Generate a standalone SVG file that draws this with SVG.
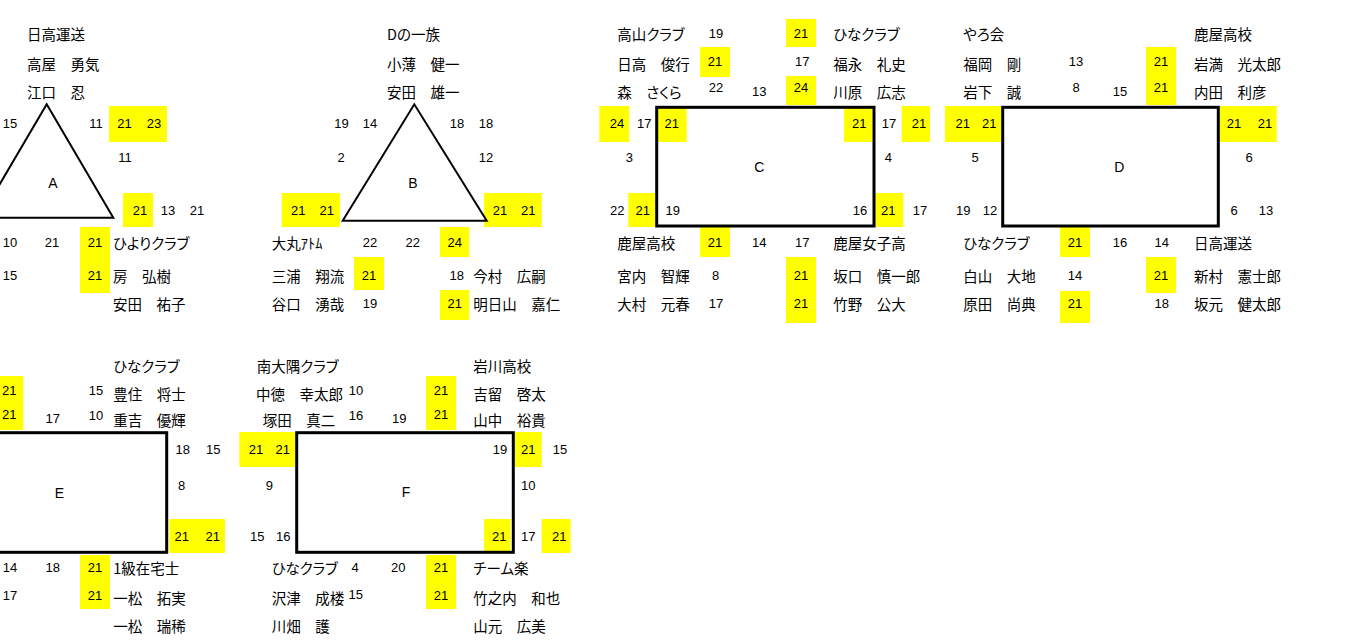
<svg xmlns="http://www.w3.org/2000/svg" width="1351" height="641" viewBox="0 0 1351 641">
<style>
.n{font-family:"Liberation Sans",Arial,sans-serif;font-size:13px;text-anchor:middle;dominant-baseline:central;fill:#000}
.j{font-family:"Noto Sans CJK JP","Noto Sans",sans-serif;font-size:14.5px;dominant-baseline:central;fill:#000;font-feature-settings:"palt" 1}
.l{font-family:"Liberation Sans",Arial,sans-serif;font-size:14px;text-anchor:middle;dominant-baseline:central;fill:#000}
.y{fill:#FFFF00}
.tri{fill:none;stroke:#000;stroke-width:2;stroke-linejoin:miter}
.box{fill:none;stroke:#000;stroke-width:3}
</style>
<rect x="0" y="0" width="1351" height="641" fill="#fff"/>
<g id="connectors"/>

<g id="blockA">
<rect class="y" x="109" y="106" width="58" height="36"/>
<rect class="y" x="123" y="193" width="30" height="34"/>
<rect class="y" x="80" y="227" width="30" height="66"/>
<polygon class="tri" points="-20,217.7 46.7,104.3 113.3,217.7"/>
<text class="j" x="27" y="33">日高運送</text>
<text class="j" x="27" y="63">高屋　勇気</text>
<text class="j" x="27" y="91">江口　忍</text>
<text class="n" x="10" y="123">15</text>
<text class="n" x="96" y="123">11</text>
<text class="n" x="124.5" y="123">21</text>
<text class="n" x="154" y="123">23</text>
<text class="n" x="125" y="157">11</text>
<text class="l" x="53" y="183">A</text>
<text class="n" x="140" y="210">21</text>
<text class="n" x="168" y="210">13</text>
<text class="n" x="197" y="210">21</text>
<text class="n" x="10" y="242">10</text>
<text class="n" x="52" y="242">21</text>
<text class="n" x="95" y="242">21</text>
<text class="j" x="113" y="242">ひよりクラブ</text>
<text class="n" x="10" y="275">15</text>
<text class="n" x="95" y="275">21</text>
<text class="j" x="113" y="275">房　弘樹</text>
<text class="j" x="113" y="303">安田　祐子</text>
</g>

<g id="blockB">
<rect class="y" x="281.7" y="193" width="58.3" height="34"/>
<rect class="y" x="484" y="193" width="57.7" height="34"/>
<rect class="y" x="440" y="227" width="29.3" height="30"/>
<rect class="y" x="354" y="257" width="30" height="33"/>
<rect class="y" x="440" y="290" width="29.3" height="30"/>
<polygon class="tri" points="342.7,220.7 414.3,104.3 486.7,220.7"/>
<text class="j" x="387" y="33">Dの一族</text>
<text class="j" x="387" y="63">小薄　健一</text>
<text class="j" x="387" y="91">安田　雄一</text>
<text class="n" x="341.5" y="123">19</text>
<text class="n" x="370" y="123">14</text>
<text class="n" x="457" y="123">18</text>
<text class="n" x="486" y="123">18</text>
<text class="n" x="341" y="157">2</text>
<text class="n" x="486" y="157">12</text>
<text class="l" x="413" y="183">B</text>
<text class="n" x="298.3" y="210">21</text>
<text class="n" x="326.7" y="210">21</text>
<text class="n" x="500" y="210">21</text>
<text class="n" x="528.3" y="210">21</text>
<text class="j" x="271.7" y="242">大丸ｱﾄﾑ</text>
<text class="n" x="370" y="242">22</text>
<text class="n" x="412.7" y="242">22</text>
<text class="n" x="454.7" y="242">24</text>
<text class="j" x="271.7" y="275">三浦　翔流</text>
<text class="n" x="369" y="275">21</text>
<text class="n" x="456.7" y="275">18</text>
<text class="j" x="473.3" y="275">今村　広嗣</text>
<text class="j" x="271.7" y="303">谷口　湧哉</text>
<text class="n" x="370" y="303">19</text>
<text class="n" x="454.7" y="303">21</text>
<text class="j" x="473.3" y="303">明日山　嘉仁</text>
</g>

<g id="blockC">
<rect class="y" x="786" y="19" width="30" height="28"/>
<rect class="y" x="700" y="47" width="30" height="30"/>
<rect class="y" x="786" y="76" width="30" height="29"/>
<rect class="y" x="599.3" y="106" width="30" height="36"/>
<rect class="y" x="656.7" y="106" width="30" height="36"/>
<rect class="y" x="844" y="106" width="28" height="36"/>
<rect class="y" x="901.7" y="106" width="28.3" height="36"/>
<rect class="y" x="628.3" y="193" width="26.7" height="34"/>
<rect class="y" x="875" y="193" width="28.3" height="34"/>
<rect class="y" x="700" y="227" width="30" height="30"/>
<rect class="y" x="786" y="257" width="30" height="66"/>
<rect class="box" x="656.7" y="107.3" width="217.3" height="118.7"/>
<text class="j" x="617.3" y="33">高山クラブ</text>
<text class="n" x="716" y="33">19</text>
<text class="n" x="801" y="33">21</text>
<text class="j" x="833.3" y="33">ひなクラブ</text>
<text class="j" x="617.3" y="63">日高　俊行</text>
<text class="n" x="715" y="61">21</text>
<text class="n" x="802.3" y="61">17</text>
<text class="j" x="833.3" y="63">福永　礼史</text>
<text class="j" x="617.3" y="91">森　さくら</text>
<text class="n" x="716" y="87">22</text>
<text class="n" x="759.3" y="91">13</text>
<text class="n" x="801" y="87">24</text>
<text class="j" x="833.3" y="91">川原　広志</text>
<text class="n" x="617" y="123">24</text>
<text class="n" x="644.3" y="123">17</text>
<text class="n" x="671.7" y="123">21</text>
<text class="n" x="859.3" y="123">21</text>
<text class="n" x="889" y="123">17</text>
<text class="n" x="919" y="123">21</text>
<text class="n" x="629.3" y="157">3</text>
<text class="n" x="888.3" y="157">4</text>
<text class="l" x="759.3" y="167">C</text>
<text class="n" x="617.3" y="210">22</text>
<text class="n" x="642.7" y="210">21</text>
<text class="n" x="672.7" y="210">19</text>
<text class="n" x="860" y="210">16</text>
<text class="n" x="888.3" y="210">21</text>
<text class="n" x="920" y="210">17</text>
<text class="j" x="617.3" y="242">鹿屋高校</text>
<text class="n" x="715" y="242">21</text>
<text class="n" x="759.3" y="242">14</text>
<text class="n" x="802.3" y="242">17</text>
<text class="j" x="833.3" y="242">鹿屋女子高</text>
<text class="j" x="617.3" y="275">宮内　智輝</text>
<text class="n" x="715.7" y="275">8</text>
<text class="n" x="801" y="275">21</text>
<text class="j" x="833.3" y="275">坂口　慎一郎</text>
<text class="j" x="617.3" y="303">大村　元春</text>
<text class="n" x="716" y="303">17</text>
<text class="n" x="801" y="303">21</text>
<text class="j" x="833.3" y="303">竹野　公大</text>
</g>

<g id="blockD">
<rect class="y" x="1146" y="47" width="30" height="58"/>
<rect class="y" x="945" y="106" width="56.7" height="36"/>
<rect class="y" x="1220" y="106" width="56.7" height="36"/>
<rect class="y" x="1060" y="227" width="30" height="30"/>
<rect class="y" x="1146" y="257" width="30" height="36"/>
<rect class="y" x="1060" y="291" width="30" height="32"/>
<rect class="box" x="1002.7" y="107.3" width="215.6" height="118.7"/>
<text class="j" x="963.3" y="33">やろ会</text>
<text class="j" x="1194" y="33">鹿屋高校</text>
<text class="j" x="963.3" y="63">福岡　剛</text>
<text class="n" x="1076" y="61">13</text>
<text class="n" x="1161" y="61">21</text>
<text class="j" x="1194" y="63">岩満　光太郎</text>
<text class="j" x="963.3" y="91">岩下　誠</text>
<text class="n" x="1076" y="87">8</text>
<text class="n" x="1120" y="91">15</text>
<text class="n" x="1161" y="87">21</text>
<text class="j" x="1194" y="91">内田　利彦</text>
<text class="n" x="962.7" y="123">21</text>
<text class="n" x="989.3" y="123">21</text>
<text class="n" x="1234" y="123">21</text>
<text class="n" x="1265" y="123">21</text>
<text class="n" x="975" y="157">5</text>
<text class="n" x="1249" y="157">6</text>
<text class="l" x="1119.3" y="167">D</text>
<text class="n" x="963.3" y="210">19</text>
<text class="n" x="990" y="210">12</text>
<text class="n" x="1234" y="210">6</text>
<text class="n" x="1266" y="210">13</text>
<text class="j" x="963.3" y="242">ひなクラブ</text>
<text class="n" x="1075" y="242">21</text>
<text class="n" x="1120" y="242">16</text>
<text class="n" x="1161.7" y="242">14</text>
<text class="j" x="1194" y="242">日高運送</text>
<text class="j" x="963.3" y="275">白山　大地</text>
<text class="n" x="1075" y="275">14</text>
<text class="n" x="1161" y="275">21</text>
<text class="j" x="1194" y="275">新村　憲士郎</text>
<text class="j" x="963.3" y="303">原田　尚典</text>
<text class="n" x="1075" y="303">21</text>
<text class="n" x="1161.7" y="303">18</text>
<text class="j" x="1194" y="303">坂元　健太郎</text>
</g>

<g id="blockE">
<rect class="y" x="0" y="376" width="23.3" height="54"/>
<rect class="y" x="169.3" y="519" width="55.7" height="34"/>
<rect class="y" x="80" y="555" width="30" height="54"/>
<rect class="box" x="-10" y="432.7" width="176.7" height="119.6"/>
<text class="j" x="113.3" y="365">ひなクラブ</text>
<text class="n" x="9.3" y="390">21</text>
<text class="n" x="96" y="390">15</text>
<text class="j" x="113.3" y="393">豊住　将士</text>
<text class="n" x="9.3" y="414">21</text>
<text class="n" x="52.7" y="418">17</text>
<text class="n" x="96" y="415">10</text>
<text class="j" x="113.3" y="419">重吉　優輝</text>
<text class="n" x="182.7" y="449">18</text>
<text class="n" x="213.3" y="449">15</text>
<text class="n" x="181.7" y="485">8</text>
<text class="l" x="59.3" y="493">E</text>
<text class="n" x="181.7" y="536">21</text>
<text class="n" x="212.7" y="536">21</text>
<text class="n" x="10" y="567">14</text>
<text class="n" x="52.7" y="567">18</text>
<text class="n" x="95" y="567">21</text>
<text class="j" x="113.3" y="567">1級在宅士</text>
<text class="n" x="10" y="595">17</text>
<text class="n" x="95" y="595">21</text>
<text class="j" x="113.3" y="597">一松　拓実</text>
<text class="j" x="113.3" y="625">一松　瑞稀</text>
</g>

<g id="blockF">
<rect class="y" x="426" y="376" width="30" height="54"/>
<rect class="y" x="239.3" y="432" width="55.7" height="35"/>
<rect class="y" x="515" y="432" width="26.7" height="35"/>
<rect class="y" x="484" y="519" width="26.7" height="34"/>
<rect class="y" x="541.7" y="519" width="29" height="34"/>
<rect class="y" x="426" y="555" width="30" height="54"/>
<rect class="box" x="296.7" y="432.7" width="216.6" height="119.6"/>
<text class="j" x="256.7" y="365">南大隅クラブ</text>
<text class="j" x="473.3" y="365">岩川高校</text>
<text class="j" x="256" y="393">中徳　幸太郎</text>
<text class="n" x="356" y="390">10</text>
<text class="n" x="441" y="390">21</text>
<text class="j" x="473.3" y="393">吉留　啓太</text>
<text class="j" x="262.7" y="419">塚田　真二</text>
<text class="n" x="356" y="415">16</text>
<text class="n" x="399.3" y="418">19</text>
<text class="n" x="441" y="414">21</text>
<text class="j" x="473.3" y="419">山中　裕貴</text>
<text class="n" x="256" y="449">21</text>
<text class="n" x="282.7" y="449">21</text>
<text class="n" x="500" y="449">19</text>
<text class="n" x="528.3" y="449">21</text>
<text class="n" x="560" y="449">15</text>
<text class="n" x="269.3" y="485">9</text>
<text class="n" x="528.3" y="485">10</text>
<text class="l" x="406" y="492">F</text>
<text class="n" x="257.3" y="536">15</text>
<text class="n" x="283.3" y="536">16</text>
<text class="n" x="499.3" y="536">21</text>
<text class="n" x="528.3" y="536">17</text>
<text class="n" x="559.3" y="536">21</text>
<text class="j" x="271.7" y="567">ひなクラブ</text>
<text class="n" x="355" y="567">4</text>
<text class="n" x="398.3" y="567">20</text>
<text class="n" x="441" y="567">21</text>
<text class="j" x="473.3" y="567">チーム楽</text>
<text class="j" x="271.7" y="597">沢津　成楼</text>
<text class="n" x="355.7" y="594">15</text>
<text class="n" x="441" y="595">21</text>
<text class="j" x="473.3" y="597">竹之内　和也</text>
<text class="j" x="271.7" y="625">川畑　護</text>
<text class="j" x="473.3" y="625">山元　広美</text>
</g>
</svg>
